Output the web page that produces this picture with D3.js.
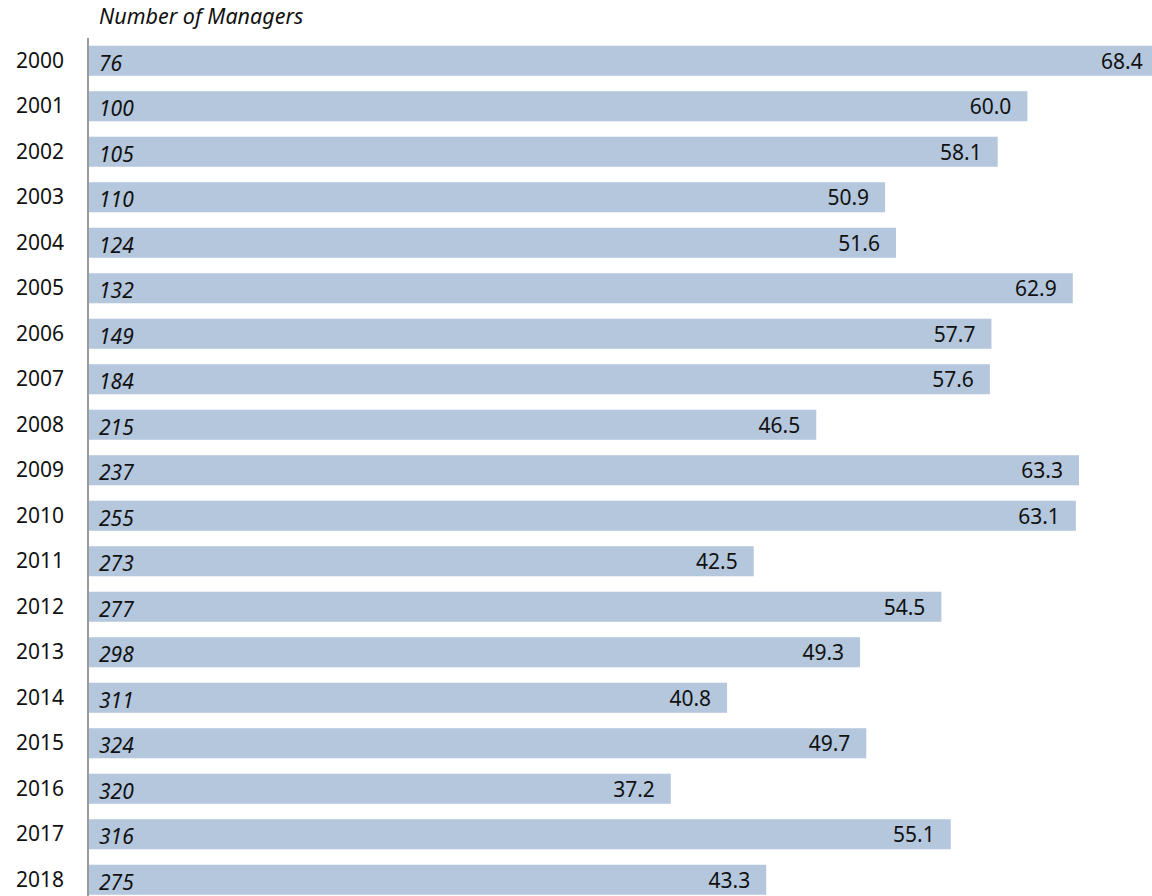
<!DOCTYPE html>
<html>
<head>
<meta charset="utf-8">
<script src="https://cdn.jsdelivr.net/npm/d3@7"></script>
<style>
  html, body { margin: 0; padding: 0; background: #fff; overflow: hidden; }
  svg { display: block; }
  text { font-family: "Source Sans Pro", "Noto Sans", sans-serif; fill: #111; }
</style>
</head>
<body>
<svg id="chart" width="1152" height="896"></svg>
<script>
// Years shown on the left axis
const years = ["2000","2001","2002","2003","2004","2005","2006","2007","2008","2009",
               "2010","2011","2012","2013","2014","2015","2016","2017","2018"];
// Bar values (labelled at the bar end)
const values = [68.4, 60.0, 58.1, 50.9, 51.6, 62.9, 57.7, 57.6, 46.5, 63.3,
                63.1, 42.5, 54.5, 49.3, 40.8, 49.7, 37.2, 55.1, 43.3];
// Number of managers for each year (italic labels inside the bars)
const managers = [76, 100, 105, 110, 124, 132, 149, 184, 215, 237,
                  255, 273, 277, 298, 311, 324, 320, 316, 275];

const FONT = '"Source Sans Pro", "Noto Sans", sans-serif';
const FS = 21;
const svg = d3.select("#chart");
const H = 896;
const left = 89;

const x = d3.scaleLinear().domain([0, 70]).range([left, left + 70 * 15.64]);
const y = d3.scaleBand().domain(years).range([38, 38 + 19 * 45.5]).paddingInner(0.34).paddingOuter(0.17);
const mid = yr => y(yr) + y.bandwidth() / 2;

const rows = svg.append("g").selectAll("g")
  .data(years.map((yr, i) => ({ yr, v: values[i], n: managers[i] })))
  .join("g");

rows.append("rect")
  .attr("x", x(0))
  .attr("y", d => y(d.yr))
  .attr("width", d => x(d.v) - x(0))
  .attr("height", y.bandwidth())
  .attr("fill", "#b4c7dc");

rows.append("text")
  .attr("x", d => x(d.v) - 16)
  .attr("y", d => mid(d.yr) + 8)
  .attr("text-anchor", "end")
  .attr("font-size", FS)
  .text(d => d3.format(".1f")(d.v));

rows.append("text")
  .attr("x", 99)
  .attr("y", d => mid(d.yr) + 10)
  .attr("font-size", FS)
  .attr("font-style", "italic")
  .text(d => d.n);

// Year axis
const axis = svg.append("g")
  .attr("transform", `translate(${left - 1},0)`)
  .call(d3.axisLeft(y).tickSize(0).tickPadding(24));
axis.select(".domain").attr("stroke", "#9a9a9a").attr("stroke-width", 2)
  .attr("d", `M0,38V${H}`);
axis.selectAll(".tick text")
  .attr("font-size", FS)
  .attr("font-family", FONT)
  .attr("fill", "#111")
  .attr("dy", null)
  .attr("y", 7);

svg.append("text")
  .attr("x", 99)
  .attr("y", 24)
  .attr("font-size", 21.5)
  .attr("font-style", "italic")
  .text("Number of Managers");
</script>
</body>
</html>
